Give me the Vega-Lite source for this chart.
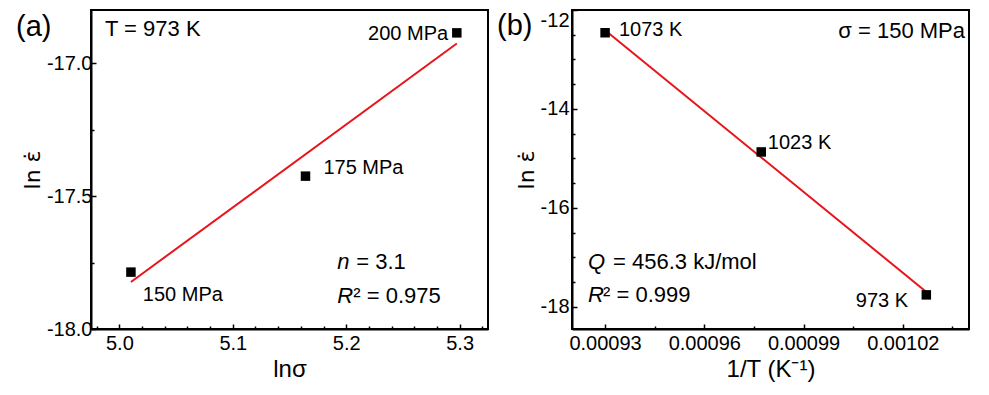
{
  "$schema": "https://vega.github.io/schema/vega-lite/v6.json",
  "padding": {"left": 15, "top": 8, "right": 5, "bottom": 5},
  "background": "white",
  "config": {
    "font": "Liberation Sans",
    "view": {"stroke": "black", "strokeWidth": 2},
    "axis": {
      "domainColor": "black", "domainWidth": 2, "tickColor": "black", "tickWidth": 1.5,
      "labelColor": "black", "labelFontSize": 20, "labelFont": "Liberation Sans",
      "titleColor": "black", "titleFontSize": 24, "titleFontWeight": "normal", "titleFont": "Liberation Sans",
      "grid": false, "labelOverlap": false, "labelBound": false
    },
    "text": {"font": "Liberation Sans", "fontSize": 22, "color": "black"},
    "title": {"fontSize": 29, "fontWeight": "normal", "font": "Liberation Sans", "color": "black"}
  },
  "spacing": 7,
  "hconcat": [
    {
      "width": 397, "height": 319,
      "title": {"text": "(a)", "anchor": "start", "frame": "group", "dx": -75, "dy": 32, "offset": 0},
      "encoding": {
        "x": {"field": "x", "type": "quantitative",
          "scale": {"domain": [4.975, 5.325], "nice": false, "zero": false},
          "axis": {"title": "ln\u03c3", "titlePadding": 2, "labelPadding": 9, "labelFlush": false,
            "values": [4.98, 5.0, 5.02, 5.04, 5.06, 5.08, 5.1, 5.12, 5.14, 5.16, 5.18, 5.2, 5.22, 5.24, 5.26, 5.28, 5.3, 5.32],
            "labelExpr": "abs(datum.value*10 - round(datum.value*10)) < 0.001 ? format(datum.value, '.1f') : ''",
            "tickSize": {"condition": {"test": "abs(datum.value*10 - round(datum.value*10)) < 0.001", "value": -5}, "value": -3}}},
        "y": {"field": "y", "type": "quantitative",
          "scale": {"domain": [-18, -16.8], "nice": false, "zero": false},
          "axis": {"title": "ln \u03b5\u0307", "titleFont": "DejaVu Sans", "titleFontSize": 22, "titlePadding": 2, "labelPadding": 4, "labelFlush": false,
            "values": [-18, -17.75, -17.5, -17.25, -17],
            "labelExpr": "abs(datum.value*2 - round(datum.value*2)) < 0.001 ? '-' + format(abs(datum.value), '.1f') : ''",
            "tickSize": {"condition": {"test": "abs(datum.value*2 - round(datum.value*2)) < 0.001", "value": -5}, "value": -3}}}
      },
      "layer": [
        {
          "data": {"values": [{"x": 5.0102, "y": -17.823}, {"x": 5.2975, "y": -16.926}]},
          "mark": {"type": "line", "color": "#e8141c", "strokeWidth": 2}
        },
        {
          "data": {"values": [
            {"x": 5.0102, "y": -17.786, "stress": "150 MPa"},
            {"x": 5.1641, "y": -17.425, "stress": "175 MPa"},
            {"x": 5.2975, "y": -16.886, "stress": "200 MPa"}]},
          "mark": {"type": "point", "shape": "square", "filled": true, "size": 90, "color": "black", "opacity": 1}
        },
        {
          "data": {"values": [
            {"x": 5.1799, "y": -17.417, "t": "175 MPa"},
            {"x": 5.0207, "y": -17.895, "t": "150 MPa"}]},
          "mark": {"type": "text", "align": "left", "baseline": "alphabetic", "fontSize": 20},
          "encoding": {"text": {"field": "t"}}
        },
        {
          "data": {"values": [
            {"x": 4.9873, "y": -16.898, "t": "T = 973 K"},
            {"x": 5.2089, "y": -17.774, "t": "= 3.1"},
            {"x": 5.2062, "y": -17.902, "t": "\u00b2 = 0.975"}]},
          "mark": {"type": "text", "align": "left", "baseline": "alphabetic", "fontSize": 22},
          "encoding": {"text": {"field": "t"}}
        },
        {
          "data": {"values": [{"x": 5.2899, "y": -16.9135, "t": "200 MPa"}]},
          "mark": {"type": "text", "align": "right", "baseline": "alphabetic", "fontSize": 20},
          "encoding": {"text": {"field": "t"}}
        },
        {
          "data": {"values": [
            {"x": 5.1922, "y": -17.774, "t": "n"},
            {"x": 5.1922, "y": -17.902, "t": "R"}]},
          "mark": {"type": "text", "align": "left", "baseline": "alphabetic", "fontSize": 22, "fontStyle": "italic"},
          "encoding": {"text": {"field": "t"}}
        }
      ]
    },
    {
      "width": 397, "height": 319,
      "title": {"text": "(b)", "anchor": "start", "frame": "group", "dx": -75, "dy": 32, "offset": 0},
      "encoding": {
        "x": {"field": "x", "type": "quantitative",
          "scale": {"domain": [0.00092, 0.00104], "nice": false, "zero": false},
          "axis": {"title": "1/T (K\u207b\u00b9)", "titlePadding": 2, "labelPadding": 9, "labelFlush": false,
            "values": [0.00093, 0.000945, 0.00096, 0.000975, 0.00099, 0.001005, 0.00102, 0.001035],
            "labelExpr": "abs(datum.value/0.00003 - round(datum.value/0.00003)) < 0.01 ? format(datum.value, '.5f') : ''",
            "tickSize": {"condition": {"test": "abs(datum.value/0.00003 - round(datum.value/0.00003)) < 0.01", "value": -5}, "value": -3}}},
        "y": {"field": "y", "type": "quantitative",
          "scale": {"domain": [-18.45, -12], "nice": false, "zero": false},
          "axis": {"title": "ln \u03b5\u0307", "titleFont": "DejaVu Sans", "titleFontSize": 22, "titlePadding": 2, "labelPadding": 8, "labelFlush": true,
            "values": [-18, -17.5, -17, -16.5, -16, -15.5, -15, -14.5, -14, -13.5, -13, -12.5, -12],
            "labelExpr": "datum.value % 2 === 0 ? '-' + format(abs(datum.value), 'd') : ''",
            "tickSize": {"condition": {"test": "datum.value % 2 === 0", "value": -5}, "value": -3}}}
      },
      "layer": [
        {
          "data": {"values": [{"x": 0.00093, "y": -12.41}, {"x": 0.0010274, "y": -17.716}]},
          "mark": {"type": "line", "color": "#e8141c", "strokeWidth": 2}
        },
        {
          "data": {"values": [
            {"x": 0.00093, "y": -12.46, "temp": "1073 K"},
            {"x": 0.0009772, "y": -14.87, "temp": "1023 K"},
            {"x": 0.0010271, "y": -17.76, "temp": "973 K"}]},
          "mark": {"type": "point", "shape": "square", "filled": true, "size": 90, "color": "black", "opacity": 1}
        },
        {
          "data": {"values": [
            {"x": 0.0009342, "y": -12.526, "t": "1073 K"},
            {"x": 0.0009792, "y": -14.81, "t": "1023 K"}]},
          "mark": {"type": "text", "align": "left", "baseline": "alphabetic", "fontSize": 20},
          "encoding": {"text": {"field": "t"}}
        },
        {
          "data": {"values": [
            {"x": 0.0009324, "y": -17.237, "t": "= 456.3 kJ/mol"},
            {"x": 0.0009294, "y": -17.904, "t": "\u00b2 = 0.999"}]},
          "mark": {"type": "text", "align": "left", "baseline": "alphabetic", "fontSize": 22},
          "encoding": {"text": {"field": "t"}}
        },
        {
          "data": {"values": [{"x": 0.0010216, "y": -18.005, "t": "973 K"}]},
          "mark": {"type": "text", "align": "right", "baseline": "alphabetic", "fontSize": 20},
          "encoding": {"text": {"field": "t"}}
        },
        {
          "data": {"values": [{"x": 0.0010388, "y": -12.566, "t": "\u03c3 = 150 MPa"}]},
          "mark": {"type": "text", "align": "right", "baseline": "alphabetic", "fontSize": 22},
          "encoding": {"text": {"field": "t"}}
        },
        {
          "data": {"values": [
            {"x": 0.0009248, "y": -17.237, "t": "Q"},
            {"x": 0.0009248, "y": -17.904, "t": "R"}]},
          "mark": {"type": "text", "align": "left", "baseline": "alphabetic", "fontSize": 22, "fontStyle": "italic"},
          "encoding": {"text": {"field": "t"}}
        }
      ]
    }
  ]
}
